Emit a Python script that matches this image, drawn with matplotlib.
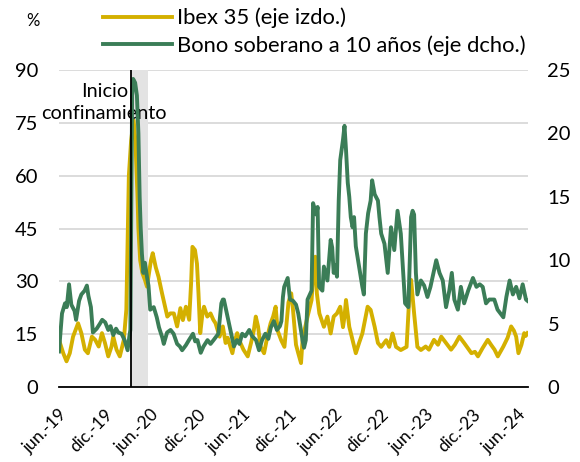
import matplotlib
matplotlib.use('Agg')
import matplotlib.pyplot as plt
import pandas as pd

# Volatilidad Ibex 35 (%, eje izquierdo)
ibex_fechas = [
    '2019-06-01', '2019-06-18', '2019-07-01', '2019-07-14', '2019-07-27', '2019-08-16',
    '2019-08-29', '2019-09-12', '2019-09-24', '2019-10-10', '2019-10-23', '2019-11-06',
    '2019-11-19', '2019-12-01', '2019-12-14', '2019-12-27', '2020-01-03', '2020-01-16',
    '2020-01-29', '2020-02-14', '2020-02-24', '2020-03-05', '2020-03-14', '2020-03-24',
    '2020-03-31', '2020-04-08', '2020-04-12', '2020-04-19', '2020-04-28', '2020-05-08',
    '2020-05-16', '2020-06-01', '2020-06-08', '2020-06-20', '2020-07-01', '2020-07-15',
    '2020-07-27', '2020-08-05', '2020-08-17', '2020-08-31', '2020-09-13', '2020-09-26',
    '2020-10-06', '2020-10-18', '2020-10-31', '2020-11-08', '2020-11-13', '2020-11-23',
    '2020-12-01', '2020-12-07', '2020-12-14', '2020-12-23', '2020-12-29', '2021-01-11',
    '2021-01-24', '2021-02-04', '2021-02-13', '2021-03-01', '2021-03-14', '2021-03-25',
    '2021-04-02', '2021-04-13', '2021-04-21', '2021-04-30', '2021-05-10', '2021-05-23',
    '2021-06-04', '2021-06-21', '2021-07-04', '2021-07-15', '2021-07-23', '2021-08-01',
    '2021-08-11', '2021-08-25', '2021-09-07', '2021-09-20', '2021-09-30', '2021-10-10',
    '2021-10-18', '2021-11-01', '2021-11-14', '2021-11-30', '2021-12-11', '2021-12-18',
    '2021-12-30', '2022-01-08', '2022-01-19', '2022-01-25', '2022-02-02', '2022-02-14',
    '2022-03-02', '2022-03-09', '2022-03-17', '2022-03-23', '2022-04-02', '2022-04-20',
    '2022-05-04', '2022-05-17', '2022-05-29', '2022-06-11', '2022-06-24', '2022-07-05',
    '2022-07-11', '2022-07-17', '2022-07-30', '2022-08-12', '2022-08-25', '2022-09-07',
    '2022-09-20', '2022-10-11', '2022-10-23', '2022-11-08', '2022-11-21', '2022-12-04',
    '2022-12-24', '2023-01-05', '2023-01-18', '2023-02-01', '2023-02-20', '2023-03-15',
    '2023-03-28', '2023-04-02', '2023-04-14', '2023-04-27', '2023-05-11', '2023-05-30',
    '2023-06-12', '2023-07-02', '2023-07-18', '2023-07-31', '2023-08-19', '2023-09-08',
    '2023-09-23', '2023-10-11', '2023-10-30', '2023-11-14', '2023-11-28', '2023-12-12',
    '2023-12-24', '2024-01-11', '2024-02-01', '2024-02-14', '2024-02-28', '2024-03-12',
    '2024-04-03', '2024-04-20', '2024-05-04', '2024-05-15', '2024-05-24', '2024-06-02',
    '2024-06-14', '2024-06-25', '2024-07-01', '2024-07-08',
]
ibex_vol = [
    13.4, 9.6, 7.3, 9.6, 14.3, 18.1,
    15.3, 10.6, 9.6, 14.3, 13.4, 11.5,
    15.3, 12.5, 8.7, 11.5, 14.3, 10.6,
    8.7, 13.4, 22.0, 60.0, 70.0, 75.7,
    70.0, 55.0, 45.0, 36.0, 32.3, 30.4,
    28.5, 36.0, 38.0, 34.0, 31.3, 26.6,
    22.8, 20.0, 20.9, 20.9, 17.2, 22.4,
    19.0, 22.8, 19.1, 30.0, 39.8, 38.9,
    35.0, 26.6, 15.3, 20.9, 22.8, 20.0,
    20.9, 19.1, 18.1, 14.3, 17.2, 12.5,
    14.0, 11.5, 9.6, 13.0, 15.3, 12.5,
    10.6, 8.7, 12.5, 16.0, 20.0, 17.2,
    11.5, 9.6, 14.3, 18.1, 20.0, 22.8,
    16.0, 13.3, 11.4, 24.0, 26.6, 22.0,
    12.0, 9.6, 6.8, 13.3, 16.2, 20.0,
    24.7, 32.3, 37.0, 26.6, 20.9, 17.1,
    20.0, 15.2, 20.0, 20.9, 22.8, 17.0,
    20.0, 24.7, 17.1, 13.3, 9.6, 12.5,
    15.2, 22.8, 21.9, 17.1, 12.5, 11.4,
    13.3, 11.4, 15.2, 11.4, 10.5, 11.4,
    28.5, 30.4, 20.9, 11.4, 10.5, 11.5,
    10.6, 13.4, 12.0, 14.3, 12.5, 10.6,
    12.0, 14.3, 12.5, 11.0, 9.6, 10.0,
    8.7, 11.0, 13.4, 12.0, 10.6, 8.7,
    11.5, 14.0, 17.2, 16.0, 14.3, 9.6,
    12.0, 15.3, 14.5, 15.3,
]

# Volatilidad bono soberano a 10 años (%, eje derecho)
bono_fechas = [
    '2019-06-01', '2019-06-13', '2019-06-25', '2019-07-02', '2019-07-11', '2019-07-20',
    '2019-08-02', '2019-08-08', '2019-08-20', '2019-08-29', '2019-09-11', '2019-09-20',
    '2019-09-26', '2019-10-06', '2019-10-14', '2019-10-29', '2019-11-11', '2019-11-20',
    '2019-12-02', '2019-12-14', '2019-12-23', '2020-01-03', '2020-01-14', '2020-01-23',
    '2020-02-05', '2020-02-17', '2020-02-29', '2020-03-07', '2020-03-11', '2020-03-15',
    '2020-03-18', '2020-03-22', '2020-03-30', '2020-04-06', '2020-04-12', '2020-04-17',
    '2020-04-21', '2020-04-26', '2020-05-02', '2020-05-08', '2020-05-16', '2020-05-22',
    '2020-05-29', '2020-06-12', '2020-06-24', '2020-07-03', '2020-07-16', '2020-07-22',
    '2020-08-04', '2020-08-18', '2020-08-30', '2020-09-13', '2020-09-24', '2020-10-03',
    '2020-10-18', '2020-10-30', '2020-11-15', '2020-11-24', '2020-12-03', '2020-12-16',
    '2020-12-27', '2021-01-12', '2021-01-24', '2021-02-05', '2021-02-24', '2021-03-08',
    '2021-03-14', '2021-03-18', '2021-03-30', '2021-04-15', '2021-04-27', '2021-05-09',
    '2021-05-19', '2021-05-30', '2021-06-11', '2021-06-27', '2021-07-09', '2021-07-24',
    '2021-08-05', '2021-08-17', '2021-08-30', '2021-09-11', '2021-09-21', '2021-10-03',
    '2021-10-15', '2021-10-27', '2021-11-02', '2021-11-08', '2021-11-13', '2021-11-27',
    '2021-12-06', '2021-12-18', '2021-12-30', '2022-01-08', '2022-01-25', '2022-01-31',
    '2022-02-07', '2022-02-14', '2022-03-02', '2022-03-08', '2022-03-15', '2022-03-21',
    '2022-03-26', '2022-04-01', '2022-04-14', '2022-04-20', '2022-05-04', '2022-05-17',
    '2022-05-23', '2022-05-29', '2022-06-05', '2022-06-11', '2022-06-18', '2022-06-24',
    '2022-07-05', '2022-07-11', '2022-07-17', '2022-07-24', '2022-07-30', '2022-08-05',
    '2022-08-12', '2022-08-18', '2022-08-25', '2022-09-07', '2022-09-20', '2022-09-26',
    '2022-10-04', '2022-10-13', '2022-10-23', '2022-10-29', '2022-11-08', '2022-11-21',
    '2022-11-27', '2022-12-04', '2022-12-17', '2022-12-30', '2023-01-12', '2023-01-25',
    '2023-02-07', '2023-02-20', '2023-03-09', '2023-03-22', '2023-04-02', '2023-04-08',
    '2023-04-14', '2023-04-21', '2023-04-27', '2023-05-11', '2023-05-24', '2023-06-06',
    '2023-06-18', '2023-07-11', '2023-07-24', '2023-08-06', '2023-08-19', '2023-09-01',
    '2023-09-11', '2023-09-21', '2023-10-05', '2023-10-17', '2023-10-30', '2023-11-15',
    '2023-12-04', '2023-12-18', '2023-12-31', '2024-01-12', '2024-01-25', '2024-02-07',
    '2024-02-27', '2024-03-11', '2024-04-03', '2024-04-15', '2024-04-28', '2024-05-11',
    '2024-05-24', '2024-06-06', '2024-06-19', '2024-07-02', '2024-07-08',
]
bono_vol = [
    2.8, 5.8, 6.6, 6.3, 8.1, 6.5,
    6.0, 5.3, 6.8, 7.3, 7.6, 8.0,
    7.2, 6.3, 4.3, 4.6, 5.0, 5.3,
    5.1, 4.5, 4.8, 4.1, 4.6, 4.3,
    4.2, 3.7, 2.9, 4.0, 4.5, 15.0,
    23.0, 24.3, 24.0, 23.0, 20.0, 15.0,
    12.6, 10.5, 9.0, 9.8, 8.7, 8.0,
    6.1, 6.3, 5.5, 4.7, 3.9, 3.4,
    4.3, 4.5, 4.2, 3.4, 3.2, 2.9,
    3.3, 3.7, 4.2, 3.6, 3.7, 2.7,
    3.2, 3.7, 3.4, 3.7, 4.2, 6.6,
    6.9, 6.9, 5.8, 4.3, 3.2, 3.7,
    3.4, 4.2, 4.0, 4.5, 4.0, 3.7,
    2.9, 3.7, 4.2, 3.8, 4.7, 5.2,
    4.5, 4.8, 5.2, 7.1, 7.9, 8.6,
    6.9, 6.8, 6.5, 5.8, 3.7, 3.1,
    3.7, 6.9, 7.6, 14.5, 14.0, 13.6,
    14.2, 7.9, 7.6, 9.5, 8.4, 11.6,
    11.0, 9.0, 9.6, 8.7, 14.7, 17.9,
    19.5, 20.6, 18.7, 16.1, 15.0, 13.4,
    12.6, 13.4, 11.1, 9.5, 7.9, 7.3,
    12.1, 13.7, 14.7, 16.3, 15.2, 14.7,
    13.4, 12.1, 11.3, 9.0, 12.6, 10.8,
    13.9, 12.1, 6.6, 6.3, 13.4, 13.9,
    13.6, 9.0, 7.3, 8.4, 8.0, 7.1,
    7.9, 10.0, 9.0, 8.4, 6.3, 7.6,
    9.0, 6.9, 6.1, 7.9, 6.6, 7.6,
    8.6, 7.9, 8.1, 7.9, 6.6, 6.9,
    6.9, 6.1, 5.5, 7.1, 8.4, 7.3,
    7.9, 7.0, 8.1, 6.9, 6.8,
]

inicio_confinamiento = '2020-03-14'
fin_sombra = '2020-05-21'
ticks_etiquetas = ['jun.-19', 'dic.-19', 'jun.-20', 'dic.-20', 'jun.-21', 'dic.-21',
                   'jun.-22', 'dic.-22', 'jun.-23', 'dic.-23', 'jun.-24']

amarillo = '#D4B000'
verde = '#3B7D57'

plt.rcParams['font.family'] = ['Lato', 'DejaVu Sans']

fig = plt.figure(figsize=(5.8, 4.62), dpi=100)
ax = fig.add_axes([0.1017, 0.1623, 0.8086, 0.6861])
ax2 = ax.twinx()

l1, = ax.plot(pd.to_datetime(ibex_fechas), ibex_vol, color=amarillo, lw=2.8,
              label='Ibex 35 (eje izdo.)', zorder=3)
l2, = ax2.plot(pd.to_datetime(bono_fechas), bono_vol, color=verde, lw=2.8,
               label='Bono soberano a 10 años (eje dcho.)', zorder=3)

ax.axvspan(pd.Timestamp(inicio_confinamiento), pd.Timestamp(fin_sombra),
           color='#E3E3E3', zorder=1, lw=0)
ax2.axvline(pd.Timestamp(inicio_confinamiento), color='black', lw=1.3, zorder=5)

ticks = pd.date_range('2019-06-01', periods=len(ticks_etiquetas),
                      freq=pd.DateOffset(months=6))
ax.set_xlim(pd.Timestamp('2019-06-01'), pd.Timestamp('2024-07-10'))
ax.set_xticks(ticks)
ax.set_xticklabels(ticks_etiquetas, rotation=45, ha='right', va='top',
                   rotation_mode='anchor', fontsize=12.5)

ax.set_ylim(0, 90)
ax.set_yticks(range(0, 91, 15))
ax2.set_ylim(0, 25)
ax2.set_yticks(range(0, 26, 5))

ax.tick_params(axis='y', length=0, labelsize=14.5, pad=15)
ax.tick_params(axis='x', length=0, pad=14)
ax2.tick_params(axis='y', length=0, labelsize=14.5, pad=14)

ax.set_axisbelow(True)
ax.grid(axis='y', color='#D9D9D9', lw=1.3)
for s in ['top', 'left', 'right']:
    ax.spines[s].set_visible(False)
for s in ax2.spines.values():
    s.set_visible(False)
ax.spines['bottom'].set_color('black')
ax.spines['bottom'].set_linewidth(1.3)

ax.text(pd.Timestamp('2019-11-28'), 80.8, 'Inicio\nconfinamiento', ha='center',
        va='center', fontsize=14.3, linespacing=1.3, zorder=6)

fig.text(0.057, 0.955, '%', ha='center', va='center', fontsize=12)

fig.legend(handles=[l1, l2], loc='upper left', bbox_to_anchor=(0.173, 0.988),
           frameon=False, fontsize=15.8, handlelength=3.15, handletextpad=0.26,
           labelspacing=0.3, borderpad=0.1, borderaxespad=0)

fig.savefig('out.png', dpi=100)
